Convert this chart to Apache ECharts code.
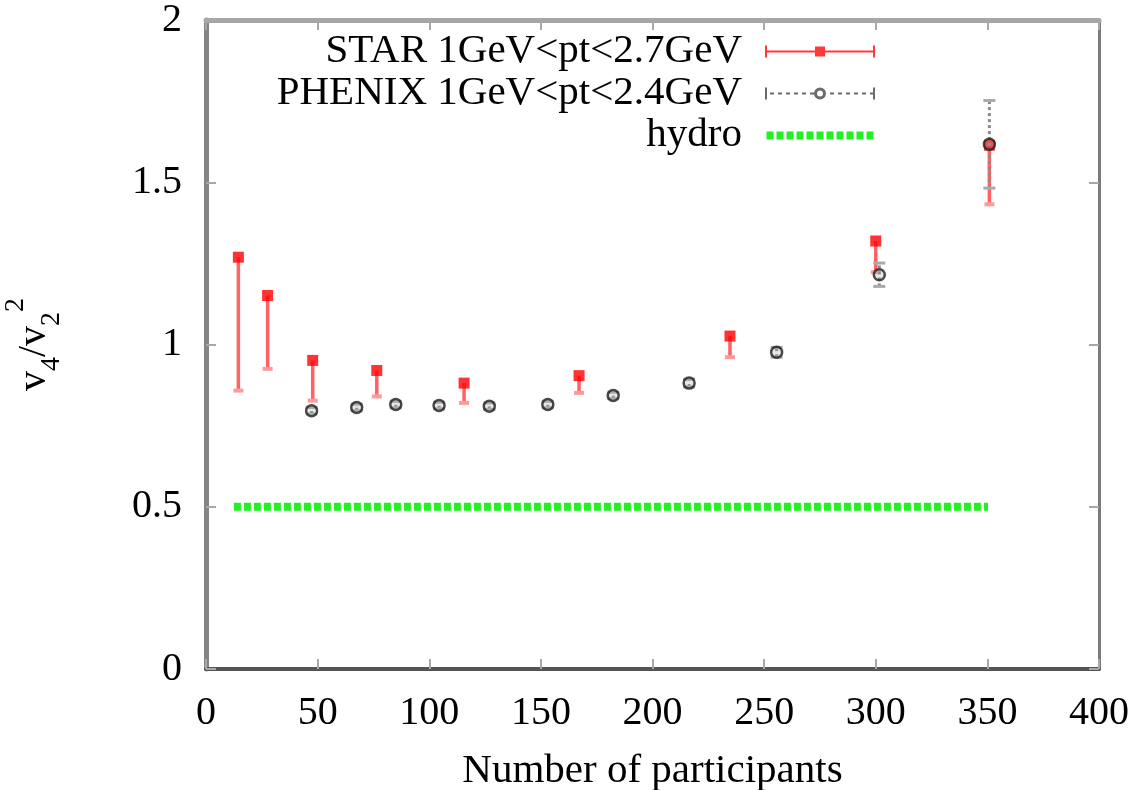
<!DOCTYPE html>
<html>
<head>
<meta charset="utf-8">
<script src="https://cdn.jsdelivr.net/npm/echarts@6/dist/echarts.min.js"></script>
<style>
html,body{margin:0;padding:0;background:#fff;}
#chart{width:1136px;height:790px;}
</style>
</head>
<body>
<div id="chart"></div>
<script>
// ---- data ----
var starName = 'STAR 1GeV<pt<2.7GeV';
var phenixName = 'PHENIX 1GeV<pt<2.4GeV';
var hydroName = 'hydro';

var starNpart = [14.5, 27.6, 47.8, 76.5, 115.6, 167.1, 234.7, 300.0, 350.9];
var starV     = [1.269, 1.151, 0.951, 0.920, 0.881, 0.904, 1.026, 1.319, 1.614];
var starLow   = [0.858, 0.925, 0.827, 0.840, 0.820, 0.851, 0.961, 1.223, 1.432];

var phenixNpart = [47.3, 67.5, 85.0, 104.4, 126.9, 153.1, 182.4, 216.4, 255.6, 301.6, 350.9];
var phenixV     = [0.796, 0.806, 0.815, 0.812, 0.810, 0.815, 0.843, 0.881, 0.976, 1.215, 1.617];
var phenixErr   = [0.010, 0.010, 0.010, 0.010, 0.010, 0.010, 0.010, 0.012, 0.015, 0.036, 0.135];

var hydroNpart = [12.5, 350.3];
var hydroV     = [0.5, 0.5];

var xMin = 0, xMax = 400, xStep = 50;
var yMin = 0, yMax = 2, yStep = 0.5;

// ---- build ----
var SERIF = '"Liberation Serif", "DejaVu Serif", serif';

var starData = starNpart.map(function (n, i) { return [n, starV[i], starLow[i]]; });
var starPts = starNpart.map(function (n, i) { return [n, starV[i]]; });
var phenixData = phenixNpart.map(function (n, i) { return [n, phenixV[i], phenixV[i] - phenixErr[i], phenixV[i] + phenixErr[i]]; });
var phenixPts = phenixNpart.map(function (n, i) { return [n, phenixV[i]]; });
var hydroData = hydroNpart.map(function (n, i) { return [n, hydroV[i]]; });

function starBars(params, api) {
  var top = api.coord([api.value(0), api.value(1)]);
  var bot = api.coord([api.value(0), api.value(2)]);
  return {
    type: 'group',
    children: [
      { type: 'line', shape: { x1: top[0], y1: top[1], x2: bot[0], y2: bot[1] },
        style: { stroke: '#ff6262', lineWidth: 3.5 } },
      { type: 'line', shape: { x1: bot[0] - 5, y1: bot[1], x2: bot[0] + 5, y2: bot[1] },
        style: { stroke: '#ff9a9a', lineWidth: 4 } }
    ]
  };
}

function phenixBars(params, api) {
  var lo = api.coord([api.value(0), api.value(2)]);
  var hi = api.coord([api.value(0), api.value(3)]);
  return {
    type: 'group',
    children: [
      { type: 'line', shape: { x1: lo[0], y1: lo[1], x2: hi[0], y2: hi[1] },
        style: { stroke: '#8a8a8a', lineWidth: 3, lineDash: [3, 3] } },
      { type: 'line', shape: { x1: lo[0] - 6, y1: lo[1], x2: lo[0] + 6, y2: lo[1] },
        style: { stroke: '#aaaaaa', lineWidth: 3 } },
      { type: 'line', shape: { x1: hi[0] - 6, y1: hi[1], x2: hi[0] + 6, y2: hi[1] },
        style: { stroke: '#aaaaaa', lineWidth: 3 } }
    ]
  };
}

var labelStyle = { fontFamily: SERIF, fontSize: 40, color: '#000' };
var tickStyle = { show: true, inside: true, length: 10, lineStyle: { color: '#a8a8a8', width: 2 } };

var starIcon = 'path://M0,0L2,0L2,12L0,12Z M108,0L110,0L110,12L108,12Z M0,5L110,5L110,7L0,7Z M50,1L60,1L60,11L50,11Z';
var phenixIcon = (function () {
  var p = 'path://M0,0L2,0L2,12L0,12Z M108,0L110,0L110,12L108,12Z';
  for (var x = 5; x < 46; x += 8) p += ' M' + x + ',5L' + (x + 4) + ',5L' + (x + 4) + ',7L' + x + ',7Z';
  for (var x2 = 65; x2 < 106; x2 += 8) p += ' M' + x2 + ',5L' + (x2 + 4) + ',5L' + (x2 + 4) + ',7L' + x2 + ',7Z';
  p += ' M49,6A6,6 0 1,0 61,6A6,6 0 1,0 49,6Z M52,6A3,3 0 1,1 58,6A3,3 0 1,1 52,6Z';
  return p;
})();
var hydroIcon = (function () {
  var p = 'path://';
  for (var x = 0; x < 110; x += 10) p += ' M' + x + ',2L' + (x + 7) + ',2L' + (x + 7) + ',10L' + x + ',10Z';
  p += ' M0,0L0.01,0L0.01,12Z';
  return p;
})();

var chart = echarts.init(document.getElementById('chart'), null, { renderer: 'canvas' });
chart.setOption({
  animation: false,
  backgroundColor: '#fff',
  grid: { left: 206, right: 37, top: 20, bottom: 121, outerBoundsMode: 'none', containLabel: false },
  legend: {
    orient: 'vertical',
    right: 261,
    top: 31,
    padding: 0,
    align: 'right',
    itemWidth: 110,
    itemHeight: 12,
    itemGap: 1,
    selectedMode: false,
    textStyle: { fontFamily: SERIF, fontSize: 41, color: '#000', padding: [0, 18, 0, 0] },
    data: [
      { name: starName, icon: starIcon, itemStyle: { color: '#ff3a3a' } },
      { name: phenixName, icon: phenixIcon, itemStyle: { color: '#6a6a6a' } },
      { name: hydroName, icon: hydroIcon, itemStyle: { color: '#22f022' } }
    ]
  },
  xAxis: [
    {
      type: 'value', position: 'bottom', min: xMin, max: xMax, interval: xStep,
      name: 'Number of participants', nameLocation: 'middle', nameGap: 82,
      nameTextStyle: { fontFamily: SERIF, fontSize: 41, color: '#000' },
      axisLine: { show: true, onZero: false, lineStyle: { color: '#555', width: 4 } },
      axisTick: tickStyle,
      axisLabel: Object.assign({ margin: 24 }, labelStyle),
      splitLine: { show: false }
    },
    {
      type: 'value', position: 'top', min: xMin, max: xMax, interval: xStep,
      axisLine: { show: true, onZero: false, lineStyle: { color: '#a6a6a6', width: 5 } },
      axisTick: tickStyle,
      axisLabel: { show: false },
      splitLine: { show: false }
    }
  ],
  yAxis: [
    {
      type: 'value', position: 'left', min: yMin, max: yMax, interval: yStep,
      name: '{a|v}{b|4}{a|/v}{b|2}{c|2}',
      nameLocation: 'middle', nameRotate: 90, nameGap: 140,
      nameTextStyle: {
        rich: {
          a: { fontFamily: SERIF, fontSize: 40, color: '#000', lineHeight: 64, verticalAlign: 'middle' },
          b: { fontFamily: SERIF, fontSize: 28, color: '#000', lineHeight: 30, verticalAlign: 'bottom' },
          c: { fontFamily: SERIF, fontSize: 28, color: '#000', lineHeight: 30, verticalAlign: 'top' }
        }
      },
      axisLine: { show: true, onZero: false, lineStyle: { color: '#848484', width: 5 } },
      axisTick: tickStyle,
      axisLabel: Object.assign({ margin: 24 }, labelStyle),
      splitLine: { show: false }
    },
    {
      type: 'value', position: 'right', min: yMin, max: yMax, interval: yStep,
      axisLine: { show: true, onZero: false, lineStyle: { color: '#7a7a7a', width: 3 } },
      axisTick: tickStyle,
      axisLabel: { show: false },
      splitLine: { show: false }
    }
  ],
  series: [
    {
      name: hydroName, type: 'line', data: hydroData, showSymbol: false, symbol: 'none',
      lineStyle: { color: '#22f022', width: 8, type: [7, 3] }, itemStyle: { color: '#22f022' }, z: 1
    },
    {
      name: starName, type: 'custom', renderItem: starBars, data: starData,
      encode: { x: 0, y: [1, 2] }, itemStyle: { color: '#ff3a3a' }, z: 2
    },
    {
      name: starName, type: 'scatter', data: starPts, symbol: 'rect', symbolSize: 11,
      itemStyle: { color: '#ff0000' }, z: 3
    },
    {
      name: phenixName, type: 'custom', renderItem: phenixBars, data: phenixData,
      encode: { x: 0, y: [2, 3] }, itemStyle: { color: '#6a6a6a' }, z: 4
    },
    {
      name: phenixName, type: 'scatter', data: phenixPts, symbol: 'circle', symbolSize: 11,
      itemStyle: { color: 'rgba(170,170,170,0.35)', borderColor: '#1e1e1e', borderWidth: 2.5 }, z: 5
    }
  ]
});
</script>
</body>
</html>
